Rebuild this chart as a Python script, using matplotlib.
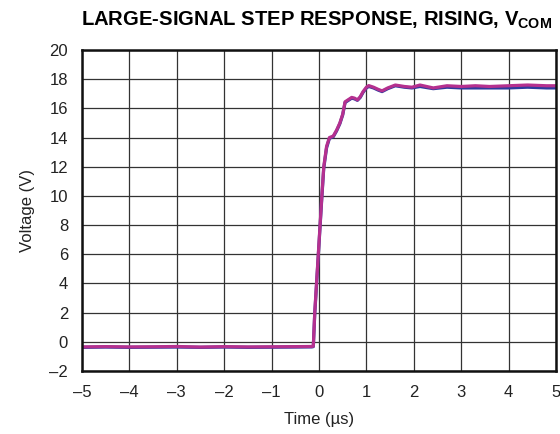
import matplotlib
matplotlib.use("Agg")
import matplotlib.pyplot as plt

plt.rcParams['font.family'] = ['Liberation Sans', 'DejaVu Sans']
plt.rcParams['mathtext.fontset'] = 'custom'
plt.rcParams['mathtext.rm'] = 'Liberation Sans'
plt.rcParams['mathtext.bf'] = 'Liberation Sans:bold'

# Time (us) and voltage (V)
t_mag = [-5.0, -4.5, -4.0, -3.5, -3.0, -2.5, -2.0, -1.5, -1.0, -0.5, -0.15, -0.12,
         -0.09, -0.015, 0.06, 0.10, 0.16, 0.22, 0.30, 0.37, 0.44, 0.50, 0.55, 0.62,
         0.69, 0.75, 0.81, 0.87, 0.93, 1.00, 1.05, 1.15, 1.25, 1.33, 1.45, 1.61,
         1.80, 1.96, 2.13, 2.41, 2.70, 3.00, 3.30, 3.60, 4.00, 4.40, 4.80, 5.0]
v_mag = [-0.35, -0.33, -0.35, -0.34, -0.32, -0.36, -0.33, -0.35, -0.34, -0.33, -0.32, -0.30,
         2.0, 6.0, 10.0, 12.0, 13.4, 14.0, 14.1, 14.5, 15.0, 15.6, 16.45, 16.6,
         16.75, 16.7, 16.58, 16.8, 17.15, 17.45, 17.56, 17.45, 17.3, 17.2, 17.4, 17.6,
         17.5, 17.45, 17.6, 17.4, 17.55, 17.5, 17.55, 17.5, 17.55, 17.6, 17.55, 17.55]
t_blue = t_mag
v_blue = [-0.38, -0.36, -0.38, -0.37, -0.36, -0.38, -0.36, -0.38, -0.37, -0.36, -0.35, -0.33,
          1.9, 5.9, 9.9, 11.9, 13.3, 13.95, 14.05, 14.45, 14.95, 15.55, 16.4, 16.55,
          16.7, 16.65, 16.55, 16.75, 17.1, 17.4, 17.5, 17.4, 17.25, 17.15, 17.35, 17.55,
          17.45, 17.4, 17.5, 17.35, 17.45, 17.4, 17.4, 17.4, 17.4, 17.45, 17.4, 17.4]

xticks = [-5, -4, -3, -2, -1, 0, 1, 2, 3, 4, 5]
yticks = [-2, 0, 2, 4, 6, 8, 10, 12, 14, 16, 18, 20]

def lab(v):
    return ('\u2013' + str(-v)) if v < 0 else str(v)

fig = plt.figure(figsize=(5.6, 4.34), dpi=100)
ax = fig.add_axes([0.1464, 0.1452, 0.8465, 0.7396])
ax.plot(t_blue, v_blue, color='#2E3A9E', lw=2.3, solid_joinstyle='round')
ax.plot(t_mag, v_mag, color='#B5308F', lw=2.3, solid_joinstyle='round')
ax.set_xlim(-5, 5)
ax.set_ylim(-2, 20)
ax.set_xticks(xticks)
ax.set_xticklabels([lab(v) for v in xticks])
ax.set_yticks(yticks)
ax.set_yticklabels([lab(v) for v in yticks])
ax.tick_params(length=0, labelsize=12, colors='#222222')
ax.tick_params(axis='x', pad=10)
ax.tick_params(axis='y', pad=10)
ax.grid(True, color='#333333', lw=0.9)
ax.set_axisbelow(True)
for s in ax.spines.values():
    s.set_linewidth(1.8)
    s.set_color('#111111')
ax.set_xlabel('Time (\u00b5s)', fontsize=12, color='#222222', labelpad=9)
ax.set_ylabel('Voltage (V)', fontsize=12, color='#222222', labelpad=10)
fig.text(0.145, 0.941, r'LARGE-SIGNAL STEP RESPONSE, RISING, V$_{\mathbf{COM}}$',
         fontsize=14.6, fontweight='bold', ha='left', va='baseline')
fig.savefig('out.png', dpi=100)
